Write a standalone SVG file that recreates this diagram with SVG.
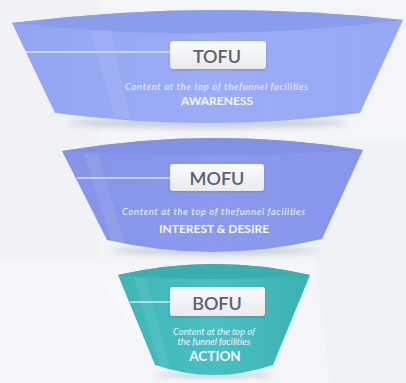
<svg xmlns="http://www.w3.org/2000/svg" width="406" height="383" viewBox="0 0 406 383">
<defs>
<style>
.lbl{font-family:Lato,"Open Sans","Liberation Sans",sans-serif;font-size:18px;font-weight:600;fill:#5c6070;text-anchor:middle}
.desc{font-family:Lato,"Open Sans","Liberation Sans",sans-serif;font-size:9.5px;font-style:italic;fill:#eef1ff;text-anchor:middle}
.stage{font-family:Lato,"Open Sans","Liberation Sans",sans-serif;font-size:12px;font-weight:700;fill:#f4f6ff;text-anchor:middle}
.box{fill:url(#boxg);filter:url(#bsh)}
.line{stroke:#e6eaff;stroke-width:1.5;fill:none;opacity:0.9}
.shine{fill:#ffffff;opacity:0.08}
.shadow{fill:#aab0c2;opacity:0.6}
</style>
<linearGradient id="boxg" x1="0" y1="0" x2="0" y2="1">
<stop offset="0" stop-color="#fafbfc"/><stop offset="1" stop-color="#e8eaee"/>
</linearGradient>
<linearGradient id="g1" x1="0" y1="0" x2="1" y2="0">
<stop offset="0" stop-color="#93a4f2"/><stop offset="0.5" stop-color="#9cadf6"/><stop offset="1" stop-color="#97a8f4"/>
</linearGradient>
<linearGradient id="g2" x1="0" y1="0" x2="1" y2="0">
<stop offset="0" stop-color="#8593e8"/><stop offset="0.5" stop-color="#8c9aed"/><stop offset="1" stop-color="#8795ea"/>
</linearGradient>
<linearGradient id="g3" x1="0" y1="0" x2="1" y2="0">
<stop offset="0" stop-color="#3fb5b7"/><stop offset="0.5" stop-color="#48c0c1"/><stop offset="1" stop-color="#3cb1b3"/>
</linearGradient>
<filter id="blur" x="-20%" y="-200%" width="140%" height="500%"><feGaussianBlur stdDeviation="3"/></filter>
<filter id="bsh" x="-10%" y="-20%" width="120%" height="150%"><feDropShadow dx="0" dy="1" stdDeviation="1" flood-color="#4a5080" flood-opacity="0.3"/></filter>
</defs>
<rect width="406" height="383" fill="#f3f5f8"/>
<polygon points="0,0 100,0 100,260 0,260" fill="#eef1f5" opacity="0.7"/>
<polygon points="300,140 406,140 406,383 330,383" fill="#eef1f5" opacity="0.6"/>
<polygon points="100,280 180,280 260,383 170,383" fill="#f8f9fb" opacity="0.8"/>

<g id="tofu">
<ellipse cx="208" cy="123" rx="140" ry="5" class="shadow" filter="url(#blur)"/>
<path d="M12,23 Q207,-1.5 403,20 L360,113 Q207,133 55,113 Z" fill="url(#g1)"/>
<path d="M12,23 Q207,-1.5 403,20 Q207,45 12,23 Z" fill="#8a9cec"/>
<path d="M90,30 L110,30 L130,118 L115,117 Z" class="shine"/>
<line x1="25" y1="52" x2="170" y2="52" class="line"/>
<rect x="170" y="41" width="96" height="28" rx="3" class="box"/>
<text x="217" y="63" class="lbl">TOFU</text>
<text x="216.5" y="90" class="desc" textLength="183">Content at the top of thefunnel facilities</text>
<text x="217" y="105" class="stage">AWARENESS</text>
</g>

<g id="mofu">
<ellipse cx="214" cy="251" rx="105" ry="4" class="shadow" filter="url(#blur)"/>
<path d="M62,151 Q212,125.5 363,150 L322,239 Q214,264.5 107,240 Z" fill="url(#g2)"/>
<path d="M62,151 Q212,125.5 363,150 Q212,160 62,151 Z" fill="#8290e6"/>
<path d="M84,154 L98,154 L125,245 L112,243 Z" class="shine"/>
<line x1="77" y1="178" x2="170" y2="178" class="line"/>
<rect x="170" y="164" width="94" height="27" rx="3" class="box"/>
<text x="217" y="185" class="lbl">MOFU</text>
<text x="213.5" y="215" class="desc" textLength="183">Content at the top of thefunnel facilities</text>
<text x="214" y="233" class="stage">INTEREST &amp; DESIRE</text>
</g>

<g id="bofu">
<ellipse cx="214" cy="375" rx="58" ry="3" class="shadow" filter="url(#blur)"/>
<path d="M118,275 Q214,253 310,275 L273,365 Q214,385 155,365 Z" fill="url(#g3)"/>
<path d="M118,275 Q214,253 310,275 Q214,283 118,275 Z" fill="#3aaeb0"/>
<path d="M134,278 L146,278 L170,368 L160,367 Z" class="shine"/>
<line x1="130" y1="302" x2="170" y2="302" class="line"/>
<rect x="170" y="287" width="95" height="29" rx="3" class="box"/>
<text x="217" y="310" class="lbl">BOFU</text>
<text x="214" y="335" class="desc" textLength="82">Content at the top of</text>
<text x="214" y="345" class="desc" textLength="73">the funnel facilities</text>
<text x="215" y="361" class="stage" style="font-size:13.5px">ACTION</text>
</g>
<g id="connectors"/>
</svg>
